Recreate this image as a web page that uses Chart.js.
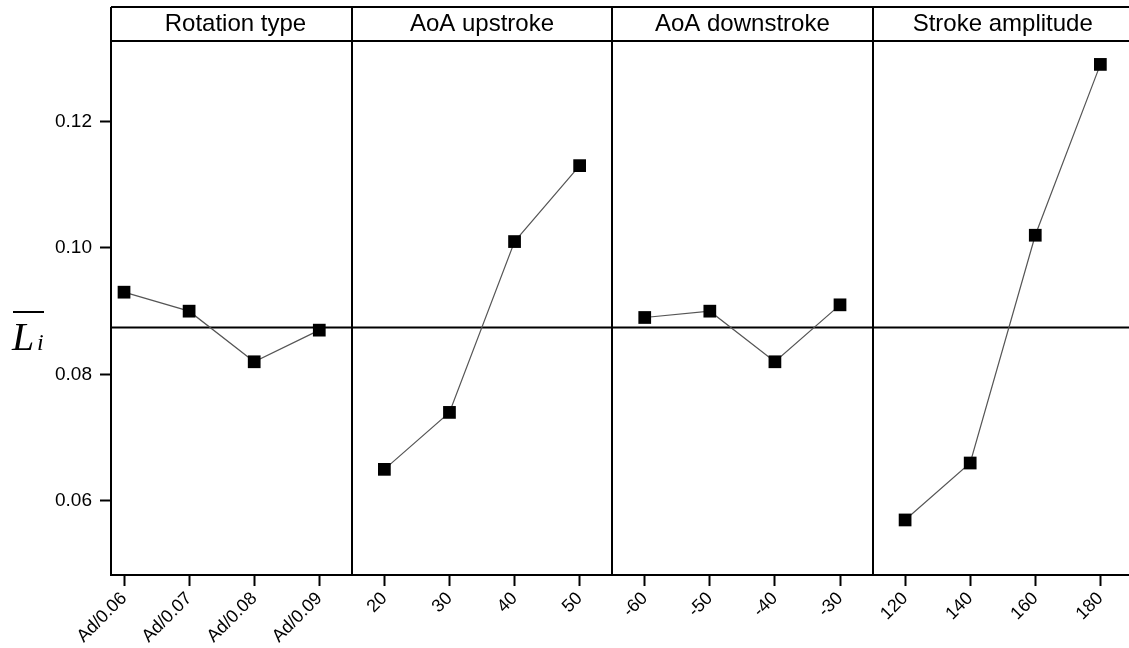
<!DOCTYPE html>
<html>
<head>
<meta charset="utf-8">
<script src="https://cdn.jsdelivr.net/npm/chart.js@4"></script>
<style>
  html, body { margin: 0; padding: 0; background: #fff; }
  #wrap { width: 1129px; height: 648px; }
</style>
</head>
<body>
<div id="wrap"><canvas id="mainEffects"></canvas></div>
<script>
// factors and their levels (one panel per factor)
const factors = ['Rotation type', 'AoA upstroke', 'AoA downstroke', 'Stroke amplitude'];
const rotationLevels = ['Ad/0.06', 'Ad/0.07', 'Ad/0.08', 'Ad/0.09'];
const upstrokeLevels = ['20', '30', '40', '50'];
const downstrokeLevels = ['-60', '-50', '-40', '-30'];
const amplitudeLevels = ['120', '140', '160', '180'];

// mean lift per level
const rotationValues = [0.093, 0.090, 0.082, 0.087];
const upstrokeValues = [0.065, 0.074, 0.101, 0.113];
const downstrokeValues = [0.089, 0.090, 0.082, 0.091];
const amplitudeValues = [0.057, 0.066, 0.102, 0.129];

const overallMean = 0.0874;
const yTicks = [0.06, 0.08, 0.10, 0.12];

const levelGroups = [rotationLevels, upstrokeLevels, downstrokeLevels, amplitudeLevels];
const valueGroups = [rotationValues, upstrokeValues, downstrokeValues, amplitudeValues];
const allLabels = levelGroups.flat();

const X_MIN = -0.2, X_MAX = 15.44;

// each factor becomes a dataset, placed on consecutive slots of one x axis
let slot = 0;
const panelSets = valueGroups.map((vals, g) => {
  const pts = vals.map(v => ({ x: slot++, y: v }));
  return {
    label: factors[g],
    data: pts,
    borderColor: '#555',
    borderWidth: 1.2,
    pointStyle: 'rect',
    pointRadius: 9,
    pointBackgroundColor: '#000',
    pointBorderWidth: 0,
    pointHoverRadius: 9
  };
});

const meanSet = {
  label: 'mean',
  data: [{ x: X_MIN, y: overallMean }, { x: X_MAX, y: overallMean }],
  borderColor: '#000',
  borderWidth: 2,
  pointRadius: 0
};

// panel dividers, header strip and the y title
const panelFrame = {
  id: 'panelFrame',
  afterDraw(chart) {
    const ctx = chart.ctx;
    const xs = chart.scales.x;
    const area = chart.chartArea;
    const headTop = 7;
    ctx.save();
    ctx.strokeStyle = '#000';
    ctx.lineWidth = 2;
    // header box
    ctx.beginPath();
    ctx.moveTo(area.left, headTop);
    ctx.lineTo(chart.width, headTop);
    ctx.moveTo(area.left, area.top);
    ctx.lineTo(chart.width, area.top);
    ctx.moveTo(area.left, headTop);
    ctx.lineTo(area.left, area.top);
    ctx.stroke();
    // dividers
    const cuts = [3.5, 7.5, 11.5];
    ctx.beginPath();
    cuts.forEach(c => {
      const px = Math.round(xs.getPixelForValue(c));
      ctx.moveTo(px, headTop);
      ctx.lineTo(px, area.bottom);
    });
    ctx.stroke();
    // headers
    const bounds = [area.left, ...cuts.map(c => xs.getPixelForValue(c)), xs.getPixelForValue(15.5)];
    ctx.fillStyle = '#000';
    ctx.font = '24px "Liberation Sans", Arial, sans-serif';
    ctx.textAlign = 'center';
    ctx.textBaseline = 'alphabetic';
    factors.forEach((f, i) => {
      let cx = (bounds[i] + bounds[i + 1]) / 2;
      if (i === 0) cx += 4;
      ctx.fillText(f, cx, 31);
    });
    // y title: L with bar, subscript i
    ctx.textAlign = 'left';
    ctx.font = 'italic 40px "Liberation Serif", "Times New Roman", serif';
    ctx.fillText('L', 12, 350);
    ctx.font = 'italic 24px "Liberation Serif", "Times New Roman", serif';
    ctx.fillText('i', 37, 350);
    ctx.lineWidth = 2;
    ctx.beginPath();
    ctx.moveTo(13, 312);
    ctx.lineTo(44, 312);
    ctx.stroke();
    ctx.restore();
  }
};

new Chart(document.getElementById('mainEffects'), {
  type: 'line',
  data: { datasets: [...panelSets, meanSet] },
  options: {
    responsive: true,
    maintainAspectRatio: false,
    animation: false,
    layout: { autoPadding: false, padding: { top: 41, left: 0, right: 0, bottom: 0 } },
    plugins: {
      legend: { display: false },
      tooltip: { enabled: false }
    },
    scales: {
      x: {
        type: 'linear',
        min: X_MIN,
        max: X_MAX,
        afterBuildTicks: s => { s.ticks = allLabels.map((_, i) => ({ value: i })); },
        afterFit: s => { s.height = 73; s.paddingLeft = 0; s.paddingRight = 0; },
        ticks: {
          callback: v => allLabels[v],
          minRotation: 45,
          maxRotation: 45,
          color: '#000',
          padding: 2,
          font: { size: 18, family: '"Liberation Sans", Arial, sans-serif' }
        },
        grid: { drawOnChartArea: false, drawTicks: true, tickLength: 11, tickColor: '#000', tickWidth: 2 },
        border: { display: true, color: '#000', width: 2 }
      },
      y: {
        min: 0.0483,
        max: 0.1327,
        afterBuildTicks: s => { s.ticks = yTicks.map(v => ({ value: v })); },
        afterFit: s => { s.width = 111; s.paddingTop = 0; s.paddingBottom = 0; },
        ticks: {
          callback: v => v.toFixed(2),
          color: '#000',
          padding: 8,
          font: { size: 19, family: '"Liberation Sans", Arial, sans-serif' }
        },
        grid: { drawOnChartArea: false, drawTicks: true, tickLength: 11, tickColor: '#000', tickWidth: 2 },
        border: { display: true, color: '#000', width: 2 }
      }
    }
  },
  plugins: [panelFrame]
});
</script>
</body>
</html>
